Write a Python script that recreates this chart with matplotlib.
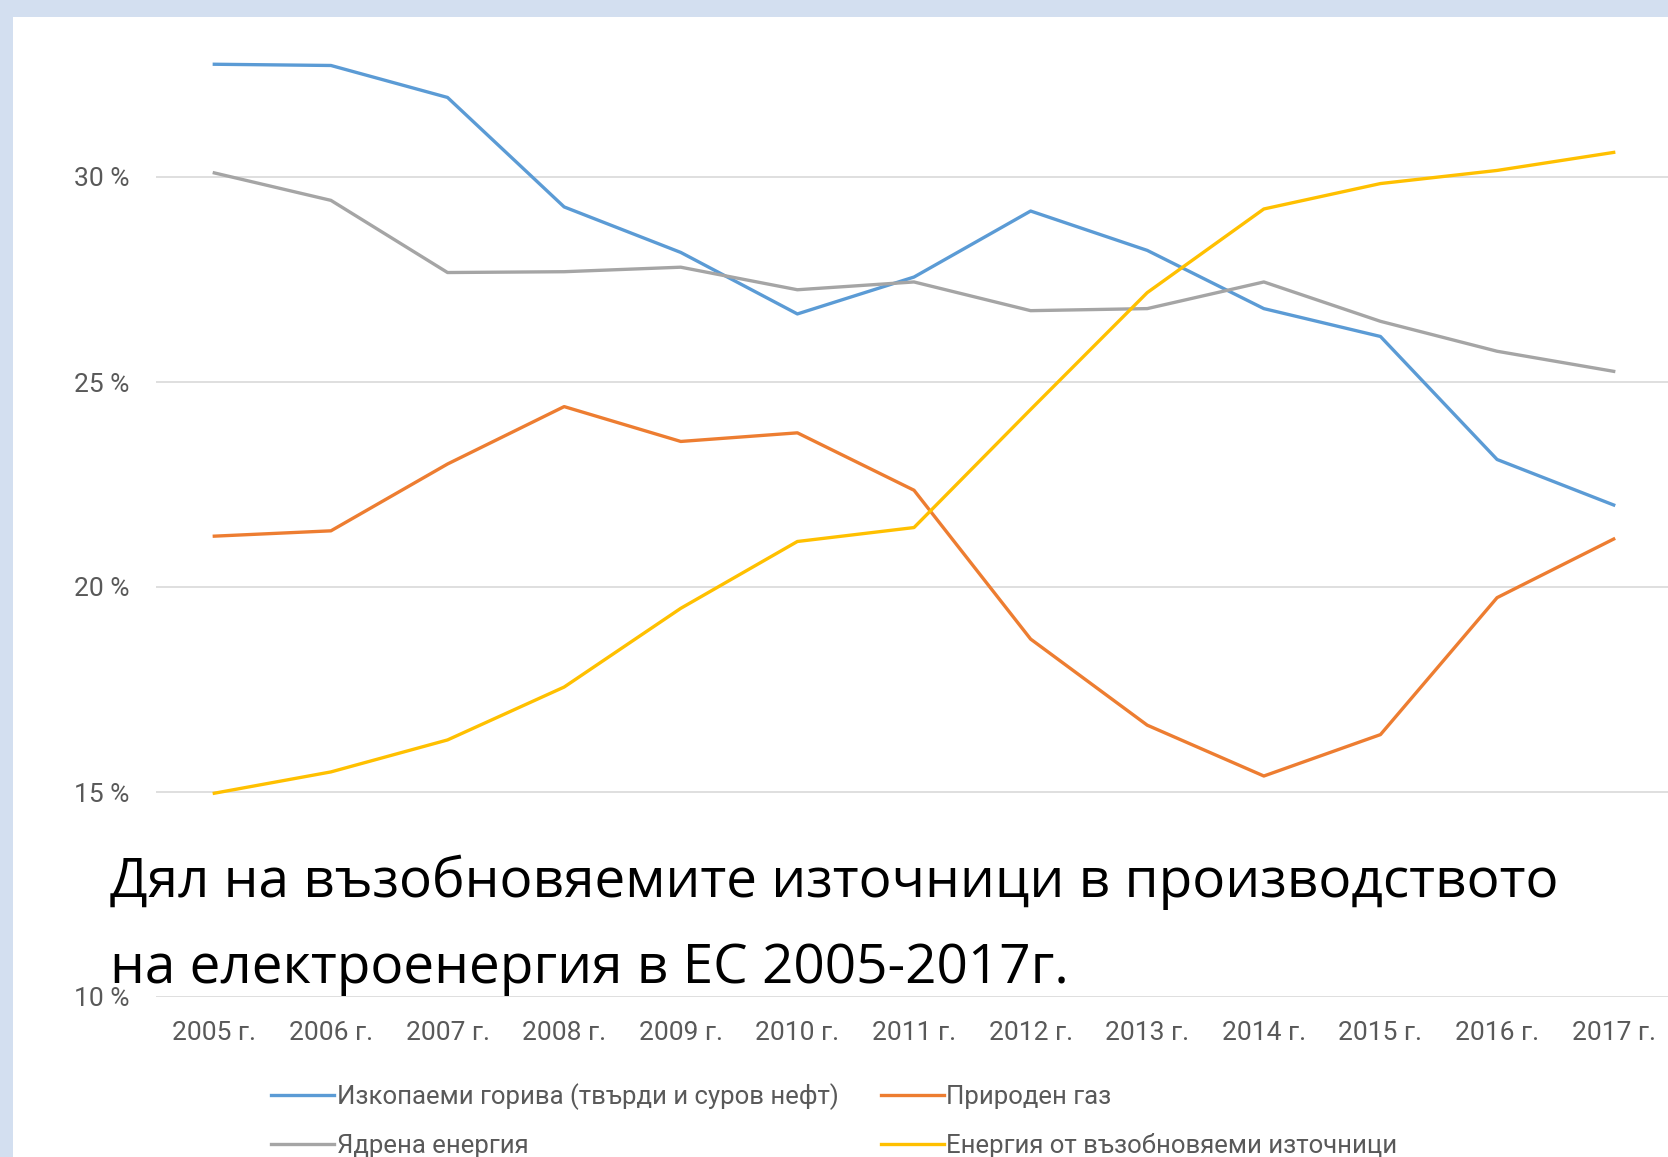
import numpy as np
import matplotlib.pyplot as plt
from matplotlib.patches import Rectangle

# data (percent)
years = ["2005 г.", "2006 г.", "2007 г.", "2008 г.", "2009 г.", "2010 г.", "2011 г.",
         "2012 г.", "2013 г.", "2014 г.", "2015 г.", "2016 г.", "2017 г."]
fossil = [32.75, 32.72, 31.94, 29.27, 28.16, 26.66, 27.56, 29.17, 28.21, 26.79, 26.11, 23.11, 22.0]
gas = [21.24, 21.37, 23.0, 24.40, 23.55, 23.76, 22.36, 18.73, 16.63, 15.39, 16.40, 19.74, 21.17]
nuclear = [30.1, 29.43, 27.67, 27.69, 27.8, 27.25, 27.44, 26.74, 26.79, 27.44, 26.48, 25.75, 25.26]
renew = [14.97, 15.49, 16.27, 17.56, 19.48, 21.11, 21.45, 24.33, 27.18, 29.22, 29.84, 30.16, 30.6]
yticks = [10, 15, 20, 25, 30]

names = ["Изкопаеми горива (твърди и суров нефт)", "Природен газ",
         "Ядрена енергия", "Енергия от възобновяеми източници"]
title1 = "Дял на възобновяемите източници в производството"
title2 = "на електроенергия в ЕС 2005-2017г."

W, H = 1668, 1157
fig = plt.figure(figsize=(W / 100, H / 100), dpi=100)
fig.patch.set_facecolor("#d3dff0")
fig.patches.append(Rectangle((13 / W, 0), 1, 1 - 17 / H, transform=fig.transFigure,
                             facecolor="white", edgecolor="none", zorder=-1))

tickfont = ["Roboto", "DejaVu Sans"]

ax = fig.add_axes([156 / W, 160 / H, 1516 / W, 1025 / H])
ax.set_zorder(1)
ax.set_facecolor("none")
x = np.arange(len(years))
lw = 2.4
l1, = ax.plot(x, fossil, color="#5b9bd5", lw=lw, solid_joinstyle="round")
l2, = ax.plot(x, gas, color="#ed7d31", lw=lw, solid_joinstyle="round")
l3, = ax.plot(x, nuclear, color="#a5a5a5", lw=lw, solid_joinstyle="round")
l4, = ax.plot(x, renew, color="#ffc000", lw=lw, solid_joinstyle="round")

ax.set_xlim(-0.5, len(years) - 0.5)
ax.set_ylim(10, 35)
ax.set_yticks(yticks)
ax.set_yticklabels([f"{v} %" for v in yticks], family=tickfont, fontsize=19, color="#595959")
ax.set_xticks(x)
ax.set_xticklabels(years, family=tickfont, fontsize=19, color="#595959")
ax.tick_params(axis="y", length=0, pad=19)
ax.tick_params(axis="x", length=0, pad=17)
ax.grid(axis="y", color="#d9d9d9", lw=1.2)
ax.set_axisbelow(True)
for s in ax.spines.values():
    s.set_visible(False)

fig.legend([l1, l3, l2, l4], [names[0], names[2], names[1], names[3]], ncol=2,
           loc="upper left", bbox_to_anchor=(271 / W, 1 - 1083 / H), frameon=False,
           prop={"family": tickfont, "size": 18.5}, labelcolor="#595959",
           handlelength=2.45, handletextpad=0.1, columnspacing=1.65, labelspacing=0.95,
           borderpad=0, borderaxespad=0)

fig.text(110 / W, 1 - 897 / H, title1, family="Open Sans", fontsize=39.5,
         va="baseline", ha="left", color="black", zorder=3)
fig.text(110 / W, 1 - 983 / H, title2, family="Open Sans", fontsize=39.5,
         va="baseline", ha="left", color="black", zorder=3)

fig.savefig("out.png", dpi=100)
